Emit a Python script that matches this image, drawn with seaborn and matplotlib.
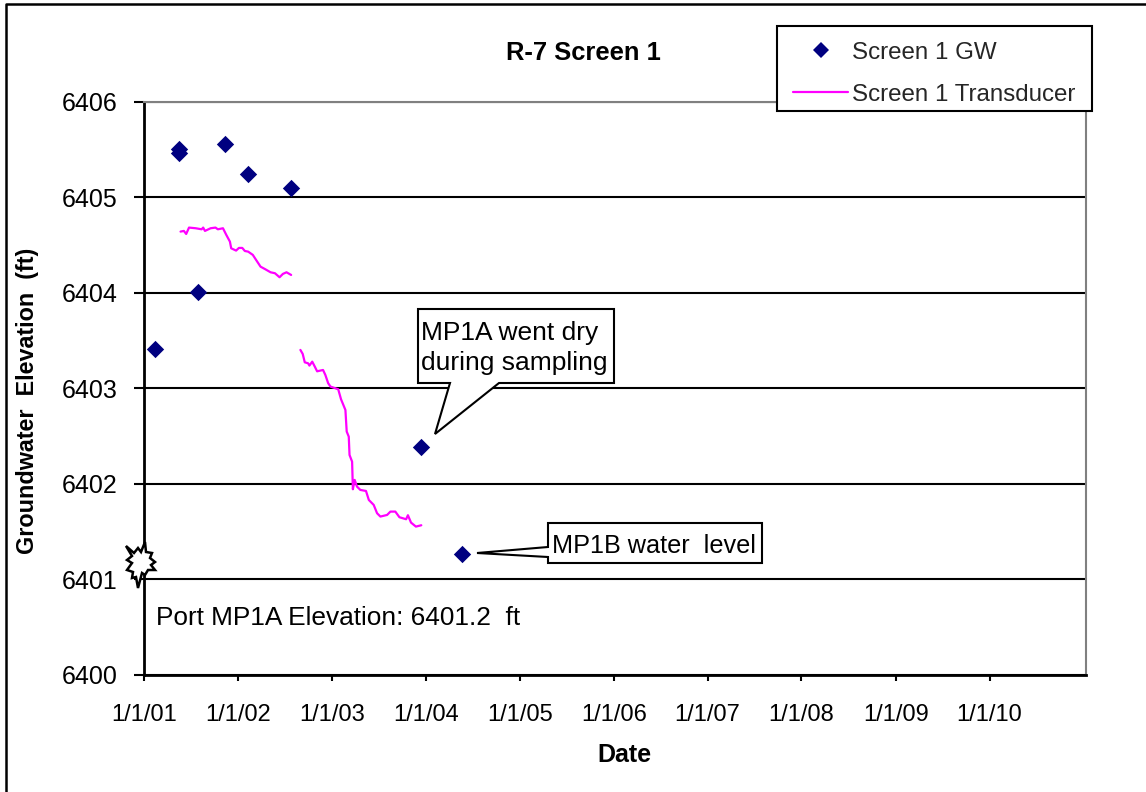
import numpy as np
import pandas as pd
import matplotlib
matplotlib.use('Agg')
import matplotlib.pyplot as plt
import matplotlib.transforms as mtrans
from matplotlib.lines import Line2D
from matplotlib.patches import Polygon, Rectangle
import seaborn as sns

# days since 1/1/01
gw_days = [43, 138, 138, 210, 313, 404, 571, 1076, 1235]
gw_elev = [6403.41, 6405.51, 6405.47, 6404.01, 6405.56, 6405.25, 6405.10, 6402.39, 6401.27]

tr1_days = [142, 155, 164, 175, 201, 224, 230, 237, 259, 278, 287, 307, 320, 334, 339, 358,
            369, 382, 392, 405, 423, 440, 453, 472, 492, 509, 527, 540, 554, 572]
tr1_elev = [6404.643, 6404.650, 6404.618, 6404.685, 6404.678, 6404.667, 6404.685, 6404.650,
            6404.678, 6404.685, 6404.667, 6404.678, 6404.608, 6404.538, 6404.468, 6404.444,
            6404.472, 6404.472, 6404.440, 6404.433, 6404.399, 6404.329, 6404.276, 6404.248,
            6404.217, 6404.207, 6404.165, 6404.200, 6404.217, 6404.189]

tr2_days = [608, 617, 625, 638, 643, 654, 664, 673, 696, 705, 716, 725, 755, 766, 783, 788,
            796, 799, 809, 812, 819, 828, 841, 863, 874, 893, 906, 919, 945, 958, 977, 993,
            1019, 1026, 1038, 1057, 1078]
tr2_elev = [6403.404, 6403.362, 6403.274, 6403.264, 6403.240, 6403.281, 6403.229, 6403.180,
            6403.194, 6403.142, 6403.055, 6403.020, 6402.992, 6402.887, 6402.775, 6402.549,
            6402.496, 6402.304, 6402.234, 6401.945, 6402.043, 6401.973, 6401.938, 6401.927,
            6401.833, 6401.781, 6401.694, 6401.659, 6401.676, 6401.711, 6401.711, 6401.652,
            6401.631, 6401.673, 6401.596, 6401.554, 6401.568]

tick_dates = ['2001-01-01', '2002-01-01', '2003-01-01', '2004-01-01', '2005-01-01',
              '2006-01-01', '2007-01-01', '2008-01-01', '2009-01-01', '2010-01-01']
tick_labels = ['1/1/01', '1/1/02', '1/1/03', '1/1/04', '1/1/05',
               '1/1/06', '1/1/07', '1/1/08', '1/1/09', '1/1/10']
y_ticks = [6400, 6401, 6402, 6403, 6404, 6405, 6406]

start = pd.Timestamp('2001-01-01')
def to_dates(days):
    return start + pd.to_timedelta(days, unit='D')

sns.set_theme(style='white')
plt.rcParams['font.family'] = ['Liberation Sans', 'DejaVu Sans']

W, H = 1146, 792
fig = plt.figure(figsize=(W / 100, H / 100), dpi=100)
ax = fig.add_axes([144 / W, 1 - 675 / H, 942 / W, 573 / H])

# pixel coordinates for the hand drawn callouts
px = mtrans.Affine2D().scale(1 / W, -1 / H).translate(0, 1) + fig.transFigure

NAVY = '#000080'
MAGENTA = '#FF00FF'

ax.set_ylim(6400, 6406)
ax.set_xlim(start, start + pd.Timedelta(days=3662))
ax.yaxis.grid(True, color='black', lw=1.5, zorder=1)
ax.set_axisbelow(True)

sns.lineplot(x=to_dates(tr1_days), y=tr1_elev, color=MAGENTA, lw=1.6, ax=ax, estimator=None, zorder=3)
sns.lineplot(x=to_dates(tr2_days), y=tr2_elev, color=MAGENTA, lw=1.6, ax=ax, estimator=None, zorder=3)
sns.scatterplot(x=to_dates(gw_days), y=gw_elev, marker='D', color=NAVY, s=78, linewidth=0, ax=ax, zorder=4)

ax.set_xticks(pd.to_datetime(tick_dates))
ax.set_xticklabels(tick_labels)
ax.set_yticks(y_ticks)
ax.tick_params(axis='x', bottom=True, length=4.5, width=1.5, color='black', pad=16.5, labelsize=17, labelcolor='black')
ax.tick_params(axis='y', left=True, length=7, width=1.5, color='black', pad=12, labelsize=18, labelcolor='black')

for side in ['left', 'bottom']:
    ax.spines[side].set_color('black')
    ax.spines[side].set_linewidth(2)
for side in ['top', 'right']:
    ax.spines[side].set_color('#808080')
    ax.spines[side].set_linewidth(1.5)

ax.set_xlabel('Date', fontsize=18, fontweight='bold', color='black')
ax.xaxis.set_label_coords((624 - 144) / 942, (675 - 755) / 573, transform=ax.transAxes)
ax.xaxis.label.set_va('center')
ax.set_ylabel('Groundwater  Elevation  (ft)', fontsize=16.8, fontweight='bold', color='black')
ax.yaxis.set_label_coords((28 - 144) / 942, (675 - 401) / 573, transform=ax.transAxes)
ax.yaxis.label.set_va('center')

fig.text(583, 53, 'R-7 Screen 1', transform=px, fontsize=18.4, fontweight='bold',
         ha='center', va='center', color='black')

# legend box drawn by hand so its height can follow the picture
ax.add_patch(Rectangle((777, 26), 315, 85, transform=px, fc='white', ec='black', lw=1.5,
                       clip_on=False, zorder=4.5))
handles = [
    Line2D([], [], marker='D', color=NAVY, ls='none', ms=8, mew=0),
    Line2D([], [], color=MAGENTA, lw=1.6),
]
leg = ax.legend(handles, ['Screen 1 GW', 'Screen 1 Transducer'], loc='upper left',
                bbox_to_anchor=(777 / W, 1 - 26 / H), bbox_transform=fig.transFigure,
                fontsize=17.4, frameon=False,
                borderpad=0.65, borderaxespad=0, handlelength=2.3, handletextpad=0.14,
                labelspacing=0.82)

# outer chart border, only left and top are in the picture
fig.add_artist(Line2D([6, 6, W], [H, 4, 4], transform=px, color='black', lw=1.8))

# callouts
call1 = [(418, 309), (614, 309), (614, 383), (499, 383), (435, 434), (450, 383), (418, 383)]
call2 = [(548, 523), (762, 523), (762, 563), (548, 563), (548, 557), (477, 553), (548, 547)]
for shape in [call1, call2]:
    fig.add_artist(Polygon(shape, closed=True, transform=px, fc='white', ec='black', lw=1.5, joinstyle='miter'))
fig.text(421, 333, 'MP1A went dry', transform=px, fontsize=19, ha='left', va='center', color='black')
fig.text(421, 363, 'during sampling', transform=px, fontsize=19, ha='left', va='center', color='black')
fig.text(552, 546, 'MP1B water  level', transform=px, fontsize=18.2, ha='left', va='center', color='black')

fig.text(156, 618, 'Port MP1A Elevation: 6401.2  ft', transform=px, fontsize=18.9, ha='left', va='center', color='black')

# burst marking the port elevation
burst = [(126, 546), (134, 553), (138, 548), (141, 552), (145, 542), (146, 552), (152, 553),
         (150, 558), (155, 562), (151, 565), (155, 570), (148, 570), (145, 575), (142, 573),
         (138, 588), (136, 577), (132, 578), (133, 572), (127, 570), (132, 563), (127, 560), (132, 556)]
fig.add_artist(Polygon(burst, closed=True, transform=px, fc='white', ec='black', lw=1.8, joinstyle='miter'))

fig.savefig('out.png', dpi=100)
